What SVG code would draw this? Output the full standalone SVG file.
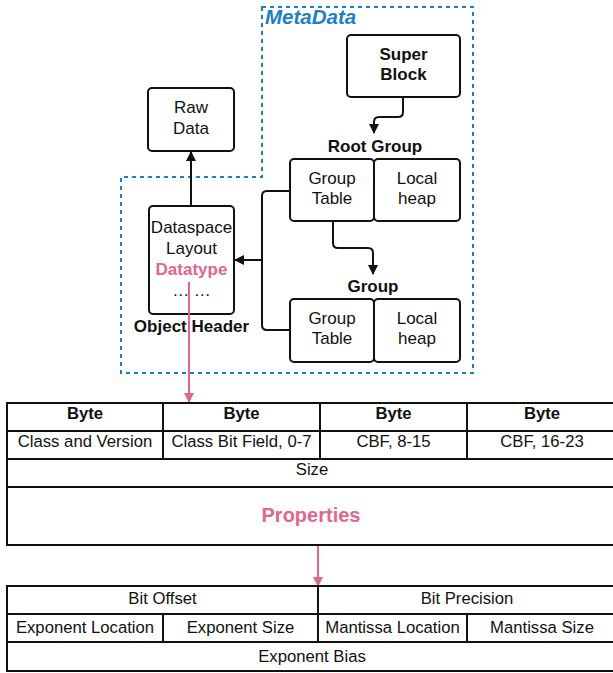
<svg xmlns="http://www.w3.org/2000/svg" width="613" height="673" viewBox="0 0 613 673">
<style>
.box{fill:#fff;stroke:#111;stroke-width:2}
.t{font-family:"Liberation Sans",Arial,sans-serif;font-size:17px;fill:#111;text-anchor:middle}
.b{font-weight:bold}
.tt{font-family:"Liberation Sans",Arial,sans-serif;font-size:16.7px;fill:#111;text-anchor:middle}
.pink{fill:#e06690}
.cell{fill:#fff;stroke:#111;stroke-width:2}
.con{fill:none;stroke:#111;stroke-width:2}
.pcon{fill:none;stroke:#e06690;stroke-width:2}
</style>
<defs>
<marker id="ah" viewBox="0 0 10 10" refX="9" refY="5" markerWidth="11" markerHeight="10" markerUnits="userSpaceOnUse" orient="auto"><path d="M0,0 L10,5 L0,10 z" fill="#111"/></marker>
<marker id="ahp" viewBox="0 0 10 10" refX="9" refY="5" markerWidth="11" markerHeight="10" markerUnits="userSpaceOnUse" orient="auto"><path d="M0,0 L10,5 L0,10 z" fill="#e06690"/></marker>
</defs>
<rect width="613" height="673" fill="#fff"/>
<g id="metadata-region">
<path d="M262,7 L473,7 L473,373 L121,373 L121,177 L262,177 Z" fill="none" stroke="#1a7fc4" stroke-width="2" stroke-dasharray="4,4"/>
<text x="265" y="24" font-family="Liberation Sans,Arial,sans-serif" font-size="20.5" font-weight="bold" font-style="italic" fill="#1a7fc4">MetaData</text>
</g>
<g id="super-block">
<rect class="box" x="347" y="35" width="113" height="62" rx="4"/>
<text class="t b" x="403.5" y="60">Super</text>
<text class="t b" x="403.5" y="80">Block</text>
</g>
<g id="raw-data">
<rect class="box" x="148" y="88" width="86" height="63" rx="4"/>
<text class="t" x="191" y="113">Raw</text>
<text class="t" x="191" y="134">Data</text>
</g>
<g id="root-group">
<text class="t b" x="375" y="152">Root Group</text>
<rect class="box" x="290" y="159" width="84" height="62" rx="4"/>
<rect class="box" x="374" y="159" width="86" height="62" rx="4"/>
<text class="t" x="332" y="184">Group</text>
<text class="t" x="332" y="204">Table</text>
<text class="t" x="417" y="184">Local</text>
<text class="t" x="417" y="204">heap</text>
</g>
<g id="group">
<text class="t b" x="373" y="292">Group</text>
<rect class="box" x="290" y="299" width="84" height="63" rx="4"/>
<rect class="box" x="374" y="299" width="86" height="63" rx="4"/>
<text class="t" x="332" y="324">Group</text>
<text class="t" x="332" y="344">Table</text>
<text class="t" x="417" y="324">Local</text>
<text class="t" x="417" y="344">heap</text>
</g>
<g id="object-header">
<rect class="box" x="149" y="206" width="85" height="108" rx="4"/>
<text class="t" x="191.5" y="233">Dataspace</text>
<text class="t" x="191.5" y="254">Layout</text>
<text class="t b pink" x="191.5" y="275">Datatype</text>
<text class="t" x="191.5" y="296">… …</text>
<text class="t b" x="191.5" y="332">Object Header</text>
</g>
<g id="connectors">
<path class="con" d="M403,97 L403,112 Q403,117 398,117 L379,117 Q374,117 374,122 L374,133" marker-end="url(#ah)"/>
<path class="con" d="M191,206 L191,152" marker-end="url(#ah)"/>
<path class="con" d="M290,191 L267,191 Q262,191 262,196 L262,325 Q262,330 267,330 L290,330"/>
<path class="con" d="M262,260 L235,260" marker-end="url(#ah)"/>
<path class="con" d="M333,221 L333,243 Q333,248 338,248 L368,248 Q373,248 373,253 L373,274" marker-end="url(#ah)"/>
<path class="pcon" d="M189,282 L189,402" marker-end="url(#ahp)"/>
<path class="pcon" d="M318,527 L318,586" marker-end="url(#ahp)"/>
</g>
<g id="datatype-table">
<rect class="cell" x="7" y="403" width="156" height="28"/>
<rect class="cell" x="163" y="403" width="157" height="28"/>
<rect class="cell" x="320" y="403" width="147" height="28"/>
<rect class="cell" x="467" y="403" width="150" height="28"/>
<rect class="cell" x="7" y="431" width="156" height="28"/>
<rect class="cell" x="163" y="431" width="157" height="28"/>
<rect class="cell" x="320" y="431" width="147" height="28"/>
<rect class="cell" x="467" y="431" width="150" height="28"/>
<rect class="cell" x="7" y="459" width="610" height="28"/>
<rect class="cell" x="7" y="487" width="610" height="58"/>
<text class="tt b" x="85" y="419">Byte</text>
<text class="tt b" x="241.5" y="419">Byte</text>
<text class="tt b" x="393.5" y="419">Byte</text>
<text class="tt b" x="542" y="419">Byte</text>
<text class="tt" x="85" y="447">Class and Version</text>
<text class="tt" x="241.5" y="447">Class Bit Field, 0-7</text>
<text class="tt" x="393.5" y="447">CBF, 8-15</text>
<text class="tt" x="542" y="447">CBF, 16-23</text>
<text class="tt" x="312" y="475">Size</text>
<text class="tt b pink" x="311" y="522" style="font-size:20px">Properties</text>
</g>
<g id="properties-table">
<rect class="cell" x="7" y="586" width="311" height="28"/>
<rect class="cell" x="318" y="586" width="299" height="28"/>
<rect class="cell" x="7" y="614" width="156" height="28"/>
<rect class="cell" x="163" y="614" width="155" height="28"/>
<rect class="cell" x="318" y="614" width="149" height="28"/>
<rect class="cell" x="467" y="614" width="150" height="28"/>
<rect class="cell" x="7" y="642" width="610" height="29"/>
<text class="tt" x="162.5" y="604">Bit Offset</text>
<text class="tt" x="467" y="604">Bit Precision</text>
<text class="tt" x="85" y="633">Exponent Location</text>
<text class="tt" x="240.5" y="633">Exponent Size</text>
<text class="tt" x="392.5" y="633">Mantissa Location</text>
<text class="tt" x="542" y="633">Mantissa Size</text>
<text class="tt" x="312" y="662">Exponent Bias</text>
</g>
</svg>
